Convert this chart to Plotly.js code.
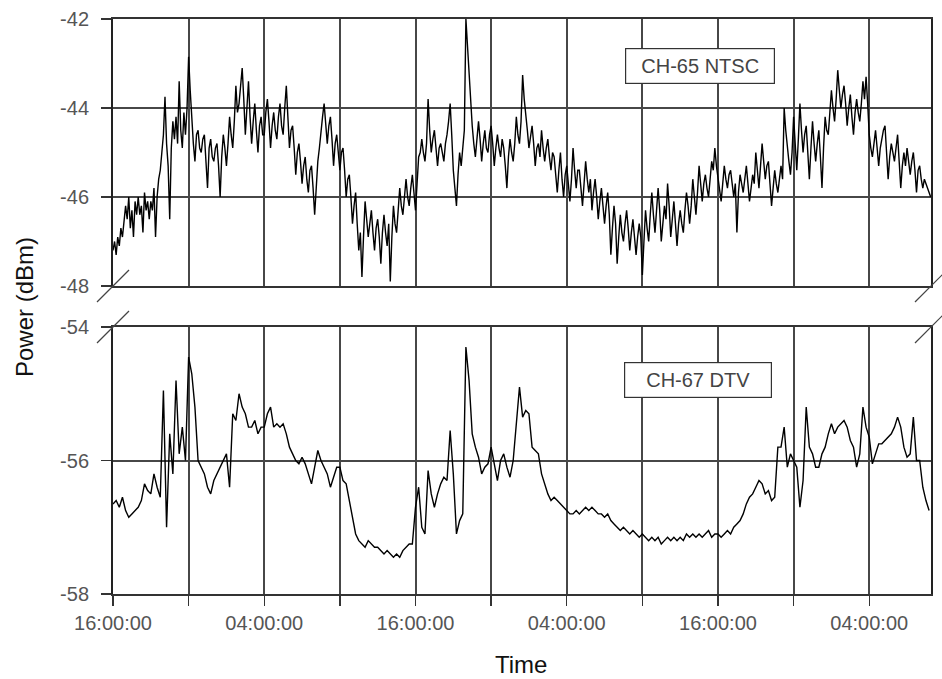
<!DOCTYPE html>
<html>
<head>
<meta charset="utf-8">
<script src="https://cdn.plot.ly/plotly-3.0.1.min.js"></script>
<style>html,body{margin:0;padding:0;background:#fff;}#chart{width:942px;height:679px;}</style>
</head>
<body>
<div id="chart"></div>
<script>
// Sampling: hours after the 16:00:00 start
const startHour = 0;
const ntscStepHours = 0.125;   // NTSC readings every 7.5 minutes
const dtvStepHours = 0.25;     // DTV readings every 15 minutes

// CH-65 NTSC power (dBm) (8 readings per hour)
const ntscPower = [
  -47.2,-47.0,-47.3,-46.9,-47.1,-46.7,-46.9,-46.5,
  -46.2,-46.5,-46.0,-46.7,-46.3,-46.9,-46.1,-46.4,
  -46.0,-46.4,-46.2,-46.8,-45.9,-46.3,-46.1,-46.5,
  -46.1,-46.3,-45.8,-46.9,-46.0,-45.6,-45.4,-45.0,
  -44.6,-43.75,-44.8,-45.3,-46.5,-44.9,-44.3,-44.7,
  -44.2,-44.8,-43.4,-44.5,-44.9,-44.1,-44.6,-44.0,
  -42.85,-43.6,-44.3,-44.8,-45.2,-44.6,-44.5,-44.9,
  -45.0,-44.7,-44.6,-45.2,-45.8,-44.9,-44.7,-45.1,
  -45.2,-44.9,-44.8,-45.3,-46.0,-45.1,-44.6,-44.9,
  -45.3,-44.8,-44.2,-44.6,-44.9,-44.3,-43.5,-44.1,
  -43.9,-43.5,-43.1,-43.8,-44.6,-44.0,-43.4,-44.2,
  -44.8,-44.3,-43.9,-44.5,-45.0,-44.4,-44.2,-44.6,
  -44.6,-44.1,-43.8,-44.3,-44.9,-44.4,-44.1,-44.5,
  -44.7,-44.2,-43.9,-44.4,-44.6,-44.0,-43.5,-44.2,
  -44.9,-44.5,-44.4,-44.9,-45.5,-45.0,-44.8,-45.2,
  -45.7,-45.3,-45.1,-45.6,-45.9,-45.4,-45.3,-45.8,
  -46.4,-45.8,-45.2,-44.9,-44.5,-44.2,-43.9,-44.4,
  -44.8,-44.4,-44.2,-44.7,-45.3,-44.8,-44.6,-45.0,
  -45.4,-45.0,-44.9,-45.4,-46.0,-45.6,-45.5,-46.0,
  -46.6,-46.2,-45.9,-46.6,-47.2,-46.8,-47.8,-46.9,
  -46.1,-46.5,-46.9,-46.6,-46.3,-46.8,-47.2,-46.7,
  -46.5,-46.9,-47.5,-46.8,-46.4,-46.8,-47.1,-46.6,
  -47.9,-46.9,-46.2,-46.6,-46.8,-46.3,-45.8,-46.2,
  -46.4,-46.0,-45.6,-46.0,-46.2,-45.8,-45.5,-45.9,
  -46.3,-45.7,-45.1,-45.0,-44.7,-45.0,-45.2,-44.8,
  -43.8,-44.5,-45.0,-44.7,-44.5,-44.9,-45.3,-44.9,
  -44.8,-45.0,-45.2,-44.8,-44.6,-44.3,-43.9,-44.6,
  -45.4,-45.8,-46.2,-45.5,-45.0,-45.3,-44.9,-44.5,
  -42.0,-42.6,-43.2,-43.9,-44.4,-44.8,-45.1,-44.7,
  -44.3,-44.7,-45.2,-44.8,-44.5,-44.9,-45.0,-44.6,
  -44.4,-44.8,-45.3,-44.9,-44.6,-44.9,-45.1,-44.7,
  -44.9,-45.3,-45.8,-45.1,-44.7,-45.0,-45.2,-44.8,
  -44.2,-44.6,-44.8,-44.3,-43.26,-43.8,-44.1,-44.5,
  -44.9,-44.6,-44.4,-44.8,-45.3,-44.9,-44.8,-45.1,
  -44.5,-44.9,-45.2,-44.9,-44.7,-45.1,-45.4,-45.0,
  -45.1,-45.5,-45.9,-45.4,-45.0,-45.6,-46.0,-45.5,
  -45.3,-45.7,-46.1,-45.6,-44.9,-45.4,-45.8,-45.4,
  -45.4,-45.8,-46.2,-45.7,-45.2,-45.6,-45.9,-45.6,
  -46.3,-45.9,-45.6,-46.0,-46.5,-46.1,-45.8,-46.2,
  -46.6,-46.2,-45.9,-46.4,-47.3,-46.7,-46.2,-46.6,
  -47.5,-46.9,-46.4,-46.8,-47.0,-46.6,-46.3,-46.7,
  -47.2,-46.8,-46.5,-46.9,-47.3,-46.9,-46.6,-46.9,
  -47.75,-47.0,-46.3,-46.7,-47.0,-46.4,-45.9,-46.4,
  -46.8,-46.3,-45.8,-46.3,-47.0,-46.6,-46.2,-46.5,
  -45.7,-46.2,-46.9,-46.5,-46.1,-46.6,-47.1,-46.6,
  -46.3,-46.6,-46.8,-46.3,-45.9,-46.2,-46.6,-46.2,
  -45.6,-46.0,-46.4,-45.9,-45.3,-45.7,-46.1,-45.7,
  -45.5,-45.8,-46.0,-45.6,-45.2,-45.4,-44.9,-45.3,
  -45.6,-45.9,-46.1,-45.7,-45.3,-45.6,-45.8,-45.5,
  -45.4,-45.7,-46.0,-45.7,-46.8,-45.9,-45.5,-45.7,
  -45.9,-45.6,-45.3,-45.7,-46.1,-45.8,-45.5,-45.7,
  -45.0,-45.4,-45.8,-45.3,-44.8,-45.2,-45.6,-45.3,
  -45.2,-45.7,-46.2,-45.8,-45.4,-45.7,-45.9,-45.6,
  -45.3,-45.6,-44.0,-44.5,-44.9,-45.2,-45.5,-45.0,
  -44.2,-44.8,-45.4,-44.7,-43.9,-44.5,-45.0,-44.6,
  -44.4,-45.0,-45.6,-44.9,-44.3,-44.8,-45.2,-44.8,
  -44.5,-45.1,-45.8,-44.9,-44.2,-44.5,-44.6,-44.1,
  -43.6,-44.0,-44.3,-43.8,-43.15,-43.6,-44.0,-43.7,
  -43.5,-43.9,-44.4,-44.0,-43.7,-44.2,-44.6,-44.1,
  -43.8,-44.1,-44.3,-43.9,-43.4,-43.8,-43.3,-43.9,
  -44.6,-44.9,-45.1,-44.8,-44.5,-44.9,-45.3,-44.9,
  -44.7,-44.5,-44.4,-45.0,-45.6,-45.1,-44.8,-45.0,
  -45.2,-44.9,-44.6,-45.2,-45.8,-45.3,-45.0,-45.3,
  -44.9,-45.2,-45.5,-45.2,-45.0,-45.4,-45.9,-45.4,
  -45.3,-45.6,-45.8,-45.6,-45.7,-45.8,-45.9,-46.0
];

// CH-67 DTV power (dBm) (4 readings per hour)
const dtvPower = [
  -56.65,-56.6,-56.7,-56.55, -56.75,-56.85,-56.8,-56.75, -56.7,-56.6,-56.35,-56.45, -56.5,-56.2,-56.4,-56.55,
  -54.95,-57.0,-55.6,-56.2, -54.8,-55.9,-55.5,-56.0, -54.45,-54.7,-55.2,-56.0, -56.1,-56.2,-56.4,-56.5,
  -56.3,-56.2,-56.1,-56.0, -55.9,-56.4,-55.3,-55.4, -55.0,-55.2,-55.3,-55.5, -55.5,-55.4,-55.6,-55.5,
  -55.5,-55.3,-55.2,-55.5, -55.45,-55.5,-55.45,-55.6, -55.8,-55.9,-56.0,-56.05, -55.95,-56.05,-56.2,-56.35,
  -56.1,-55.85,-56.0,-56.1, -56.2,-56.4,-56.25,-56.1, -56.1,-56.3,-56.35,-56.6, -56.8,-57.1,-57.2,-57.25,
  -57.3,-57.2,-57.25,-57.3, -57.3,-57.35,-57.4,-57.35, -57.4,-57.45,-57.4,-57.45, -57.35,-57.3,-57.25,-57.25,
  -56.7,-56.4,-57.0,-57.1, -56.15,-56.5,-56.7,-56.5, -56.35,-56.25,-56.3,-55.55, -56.2,-57.1,-56.9,-56.8,
  -54.3,-54.8,-55.6,-55.8, -55.95,-56.2,-56.1,-56.05, -55.8,-56.05,-56.3,-56.0, -55.9,-56.1,-56.25,-56.0,
  -55.4,-54.9,-55.35,-55.25, -55.3,-55.8,-55.85,-55.9, -56.2,-56.35,-56.5,-56.6, -56.55,-56.6,-56.65,-56.7,
  -56.75,-56.8,-56.8,-56.75, -56.8,-56.75,-56.7,-56.75, -56.7,-56.75,-56.8,-56.8, -56.85,-56.8,-56.9,-56.95,
  -57.0,-57.05,-57.0,-57.05, -57.1,-57.05,-57.1,-57.15, -57.1,-57.15,-57.2,-57.15, -57.2,-57.15,-57.25,-57.2,
  -57.15,-57.2,-57.15,-57.2, -57.15,-57.2,-57.1,-57.15, -57.1,-57.15,-57.1,-57.15, -57.1,-57.05,-57.15,-57.1,
  -57.1,-57.15,-57.1,-57.05, -57.1,-57.0,-56.95,-56.9, -56.8,-56.65,-56.55,-56.5, -56.4,-56.3,-56.35,-56.5,
  -56.45,-56.6,-56.55,-55.8, -55.8,-55.5,-56.1,-55.9, -56.0,-56.1,-56.7,-56.3, -55.2,-55.8,-55.9,-56.1,
  -56.1,-55.9,-55.8,-55.6, -55.45,-55.6,-55.5,-55.45, -55.4,-55.5,-55.7,-55.8, -56.1,-55.9,-55.2,-55.5,
  -55.65,-56.05,-55.9,-55.75, -55.75,-55.7,-55.65,-55.6, -55.5,-55.35,-55.5,-55.8, -55.95,-55.9,-55.35,-56.0,
  -56.0,-56.4,-56.6,-56.75
];

// Axis ticks
const timeTickHours = [0, 6, 12, 18, 24, 30, 36, 42, 48, 54, 60];
const timeTickLabels = ['16:00:00', '', '04:00:00', '', '16:00:00', '', '04:00:00', '', '16:00:00', '', '04:00:00'];
const ntscTicks = [-48, -46, -44, -42];
const ntscTickLabels = ['-48', '-46', '-44', '-42'];
const dtvTicks = [-58, -56, -54];
const dtvTickLabels = ['-58', '-56', '-54'];
const seriesNames = ['CH-65 NTSC', 'CH-67 DTV'];

const hoursNtsc = ntscPower.map((_, i) => startHour + i * ntscStepHours);
const hoursDtv = dtvPower.map((_, i) => startHour + i * dtvStepHours);

const FONT = 'Liberation Sans, Arial, sans-serif';
const gridCol = '#474747';

const traces = [
  {x: hoursNtsc, y: ntscPower, xaxis: 'x2', yaxis: 'y2', type: 'scatter', mode: 'lines',
   line: {color: '#000', width: 1.4}, name: seriesNames[0], hoverinfo: 'skip'},
  {x: hoursDtv, y: dtvPower, xaxis: 'x', yaxis: 'y', type: 'scatter', mode: 'lines',
   line: {color: '#000', width: 1.4}, name: seriesNames[1], hoverinfo: 'skip'}
];

// geometry helpers (paper coordinates of pixel positions)
const L = 113, R = 931, T = 19, B = 594;
const px = v => (v - L) / (R - L);
const py = v => (B - v) / (B - T);

function slash(cx, cy) {
  return {type: 'line', xref: 'paper', yref: 'paper',
    x0: px(cx - 16), y0: py(cy + 16), x1: px(cx + 16), y1: py(cy - 16),
    line: {color: '#444', width: 1.2}};
}

const axisX = {
  range: [0, 64.9], tickmode: 'array', tickvals: timeTickHours, ticktext: timeTickLabels,
  showgrid: true, gridcolor: gridCol, gridwidth: 2, zeroline: false,
  showline: true, linecolor: '#333', linewidth: 1.6, mirror: true,
  ticks: 'outside', ticklen: 10, tickcolor: '#333', tickwidth: 1.4,
  tickfont: {family: FONT, size: 20, color: '#555'}
};

const axisYCommon = {
  tickmode: 'array', showgrid: true, gridcolor: gridCol, gridwidth: 2, zeroline: false,
  showline: true, linecolor: '#222', linewidth: 2, mirror: true,
  ticks: 'outside', ticklen: 10, tickcolor: '#333', tickwidth: 1.4, ticklabelstandoff: 8,
  tickfont: {family: FONT, size: 20, color: '#555'}
};

const layout = {
  width: 942, height: 679,
  margin: {l: L, r: 942 - R, t: T, b: 679 - B, pad: 0},
  paper_bgcolor: '#fff', plot_bgcolor: '#fff',
  showlegend: false,
  xaxis: Object.assign({}, axisX, {anchor: 'y'}),
  xaxis2: Object.assign({}, axisX, {anchor: 'y2', matches: 'x', showticklabels: false, ticks: ''}),
  yaxis: Object.assign({}, axisYCommon, {domain: [0, 0.4643], range: [-58, -54], tickvals: dtvTicks, ticktext: dtvTickLabels}),
  yaxis2: Object.assign({}, axisYCommon, {domain: [0.5357, 1], range: [-48, -42], tickvals: ntscTicks, ticktext: ntscTickLabels}),
  annotations: [
    {xref: 'paper', yref: 'paper', x: px(700), y: py(66), text: seriesNames[0], showarrow: false,
     font: {family: FONT, size: 20, color: '#444'}, bgcolor: '#fff', bordercolor: '#333', borderwidth: 1.2,
     borderpad: 2, width: 144, height: 30, xanchor: 'center', yanchor: 'middle'},
    {xref: 'paper', yref: 'paper', x: px(698), y: py(380), text: seriesNames[1], showarrow: false,
     font: {family: FONT, size: 20, color: '#444'}, bgcolor: '#fff', bordercolor: '#333', borderwidth: 1.2,
     borderpad: 2, width: 142, height: 30, xanchor: 'center', yanchor: 'middle'},
    {xref: 'paper', yref: 'paper', x: px(24), y: py(307), text: 'Power (dBm)', showarrow: false,
     textangle: -90, font: {family: FONT, size: 24, color: '#111'}, xanchor: 'center', yanchor: 'middle'},
    {xref: 'paper', yref: 'paper', x: px(521), y: py(664), text: 'Time', showarrow: false,
     font: {family: FONT, size: 24, color: '#111'}, xanchor: 'center', yanchor: 'middle'}
  ],
  shapes: [slash(113, 286), slash(113, 327), slash(931, 286), slash(931, 327)]
};

Plotly.newPlot('chart', traces, layout, {displayModeBar: false, staticPlot: true});
</script>
</body>
</html>
